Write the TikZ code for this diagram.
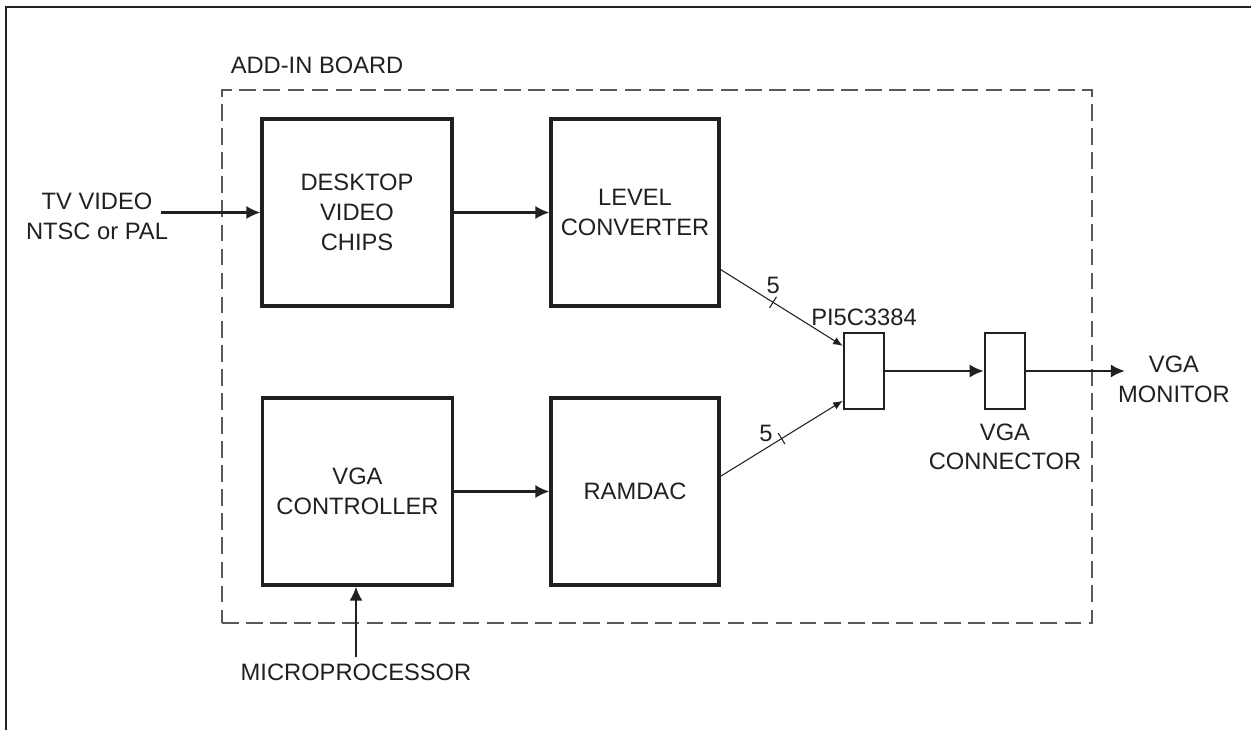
\documentclass[tikz,border=0pt]{standalone}
\usepackage{fontspec}
\setmainfont{Liberation Sans}
\usetikzlibrary{arrows.meta,positioning,calc,decorations.markings}
\definecolor{ink}{HTML}{231F20}

\begin{document}
\begin{tikzpicture}[x=0.02cm, y=-0.02cm, >=Latex,
    every node/.style={font=\fontsize{13.5}{17}\selectfont, text=ink, align=center},
    blk/.style={draw=ink, line width=1.8pt, minimum width=3.8cm, minimum height=3.74cm},
    chip/.style={draw=ink, line width=1.4pt, minimum width=0.8cm, minimum height=1.52cm},
    board/.style={draw=black!65, line width=0.8pt, dash pattern=on 9.5pt off 4.2pt,
        minimum width=17.4cm, minimum height=10.66cm},
    arw/.style={draw=ink, line width=1.4pt, -{Latex[length=8pt,width=7.5pt]}},
    bus/.style={draw=ink, line width=0.6pt, -{Latex[length=5.5pt,width=4.5pt]},
        postaction={decorate}, decoration={markings,
        mark=at position #1 with {\draw[line width=0.6pt,-] (0,-3.7pt) -- (0,3.7pt);}}}]
    \useasboundingbox (0,0) rectangle (1251,730);
    \draw[ink, line width=0.7pt] (6,730) -- (6,7) -- (1251,7);
    % board outline
    \node[board] (board) at (657,356.5) {};
    \node[above right=5.5pt and 1.8pt of board.north west] (brdlbl) {ADD-IN BOARD};
    % blocks
    \node[blk] (desk) at (357,212.5) {DESKTOP\\VIDEO\\CHIPS};
    \node[blk, minimum width=3.36cm] (lvl) at (635,212.5) {LEVEL\\CONVERTER};
    \node[blk] (ctrl) at (357.5,491.5) {VGA\\CONTROLLER};
    \node[blk, minimum width=3.36cm] (ram) at (635,491.5) {RAMDAC};
    \node[chip] (pi5c) at (864,371) {};
    \node[above=0pt of pi5c] (partno) {PI5C3384};
    \node[chip] (conn) at (1005,371) {};
    \node[below=4pt of conn] (connlbl) {VGA\\CONNECTOR};
    % outside signals
    \node[inner sep=0pt] (tvin) at (97,216.5) {TV VIDEO\\NTSC or PAL};
    \node[inner sep=0pt] (mon) at (1174,379) {VGA\\MONITOR};
    \node (mpu) at (356,672) {MICROPROCESSOR};
    % connections
    \draw[arw] ([xshift=-4pt]desk.west -| tvin.east) -- (desk.west);
    \draw[arw] (desk) -- (lvl);
    \draw[arw] (ctrl) -- (ram);
    \draw[arw] (mpu.north) -- (mpu.north |- ctrl.south);
    \draw[bus=0.43] ($(lvl.north east)!0.8!(lvl.south east)$) -- ($(pi5c.north west)!0.18!(pi5c.south west)$)
        node[pos=0.43, above=1.5pt] (w1) {5};
    \draw[bus=0.5] ($(ram.north east)!0.42!(ram.south east)$) -- ($(pi5c.north west)!0.88!(pi5c.south west)$)
        node[pos=0.5, left=1.5pt, yshift=3pt] (w2) {5};
    \draw[arw] (pi5c) -- (conn);
    \draw[arw] (conn.east) -- ([xshift=4pt]conn.east -| mon.west);
\end{tikzpicture}
\end{document}
